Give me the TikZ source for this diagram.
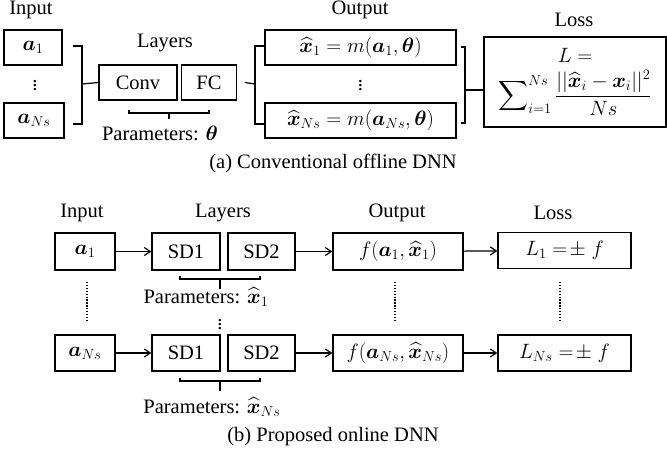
\documentclass[tikz,border=0pt]{standalone}
\usepackage{amsmath,bm}
\usepackage{fontspec}
\setmainfont{Liberation Serif}
\usetikzlibrary{arrows.meta,positioning}
\tikzset {>={Straight Barb[length=6pt,width=8pt]}}
\tikzset{
  box/.style={draw,line width=1.3pt,inner sep=0pt,font=\fontsize{20.5}{24}\selectfont},
  lbl/.style={font=\fontsize{20.5}{24}\selectfont},
  link/.style={line width=1.2pt},
  dotline/.style={line width=1.3pt,dash pattern=on 1.3pt off 1.6pt}
}
\newcommand{\xh}{\widehat{\bm{x}}}

\begin{document}
\begin{tikzpicture}[x=1pt,y=-1pt]
\useasboundingbox (0,0) rectangle (667,448);

% (a) conventional offline DNN
\node[lbl] (inA) at (31,10) {Input};
\node[lbl] (layA) at (165,43) {Layers};
\node[lbl] (outA) at (360,10) {Output};
\node[lbl] (lossA) at (574,20) {Loss};

\node[box,minimum width=58,minimum height=35] (a1) at (33,47.5) {$\bm{a}_1$};
\node[box,minimum width=60,minimum height=35] (aN) at (34,120.5) {$\bm{a}_{Ns}$};
\node[lbl] (adots) at (35,83) {$\vdots$};

\node[box,minimum width=78,minimum height=35] (conv) at (138,82.5) {Conv};
\node[box,minimum width=55,minimum height=35] (fc) at (209,82.5) {FC};

\node[box,minimum width=191,minimum height=35] (m1) at (360.5,47.5)
  {$\xh_1=m(\bm{a}_1,\bm{\theta})$};
\node[box,minimum width=191,minimum height=35] (mN) at (360.5,120.5)
  {$\xh_{Ns}=m(\bm{a}_{Ns},\bm{\theta})$};
\node[lbl] (mdots) at (360.5,83) {$\vdots$};

\node[box,minimum width=182,minimum height=90,align=center] (loss) at (575,82)
  {$L=$\\[7pt]
   $\displaystyle\sum\nolimits_{i=1}^{Ns}\frac{||\xh_i-\bm{x}_i||^2}{Ns}$};

% brackets
\draw[link] (73,46) -- (82,46) -- (82,124) -- (73,124);
\draw[link] (82,84) -- (conv.west);
\draw[link] (264,46) -- (255,46) -- (255,124) -- (264,124);
\draw[link] ([xshift=8pt]fc.east) -- (255,84);
\draw[link] (461,47) -- (465,47) -- (465,123) -- (461,123);
\draw[link] (465,90) -- (loss.west |- 0,90);

% parameter brace
\draw[link] (129,110) -- (129,113) -- (209,113) -- (209,110);
\draw[link] (169,113) -- (169,119);
\node[lbl] (parA) at (160,133) {Parameters: $\bm{\theta}$};

\node[lbl] (capA) at (333,163) {(a) Conventional offline DNN};

% (b) proposed online DNN
\node[lbl] (inB) at (82,213) {Input};
\node[lbl] (layB) at (223,213) {Layers};
\node[lbl] (outB) at (397,213) {Output};
\node[lbl] (lossB) at (553,213) {Loss};

\node[box,minimum width=60,minimum height=37] (b1) at (85,251.5) {$\bm{a}_1$};
\node[box,minimum width=68,minimum height=37] (sdA1) at (186,251.5) {SD1};
\node[box,minimum width=67,minimum height=37] (sdA2) at (261.5,251.5) {SD2};
\node[box,minimum width=130,minimum height=37] (f1) at (398,251.5)
  {$f(\bm{a}_1,\xh_1)$};
\node[box,minimum width=133,minimum height=36] (L1) at (564.5,250.5)
  {$L_1\mathrel{=\!\pm} f$};

\node[box,minimum width=60,minimum height=36] (bN) at (85,353) {$\bm{a}_{Ns}$};
\node[box,minimum width=68,minimum height=36] (sdN1) at (186,353) {SD1};
\node[box,minimum width=67,minimum height=36] (sdN2) at (261.5,353) {SD2};
\node[box,minimum width=130,minimum height=36] (fN) at (398,353)
  {$f(\bm{a}_{Ns},\xh_{Ns})$};
\node[box,minimum width=133,minimum height=36] (LN) at (564.5,353)
  {$L_{Ns}\mathrel{=\!\pm} f$};

\draw[link,->] (b1) -- (sdA1);
\draw[link,->] (sdA2) -- (f1);
\draw[link,->] (f1) -- (L1);
\draw[link,->] (bN) -- (sdN1);
\draw[link,->] (sdN2) -- (fN);
\draw[link,->] (fN) -- (LN);

% dotted columns
\draw[dotline] (87,282) -- (87,320);
\draw[dotline] (395,282) -- (395,320);
\draw[dotline] (560,282) -- (560,320);

% parameter braces
\draw[link] (180,276) -- (180,279) -- (260,279) -- (260,276);
\draw[link] (220,279) -- (220,289);
\node[lbl] (parB1) at (206,297) {Parameters: $\xh_1$};
\node[lbl] (pdots) at (220,322) {$\vdots$};
\draw[link] (180,378) -- (180,381) -- (260,381) -- (260,378);
\draw[link] (220,381) -- (220,391);
\node[lbl] (parBN) at (212,407) {Parameters: $\xh_{Ns}$};

\node[lbl] (capB) at (333,437) {(b) Proposed online DNN};
\end{tikzpicture}
\end{document}
